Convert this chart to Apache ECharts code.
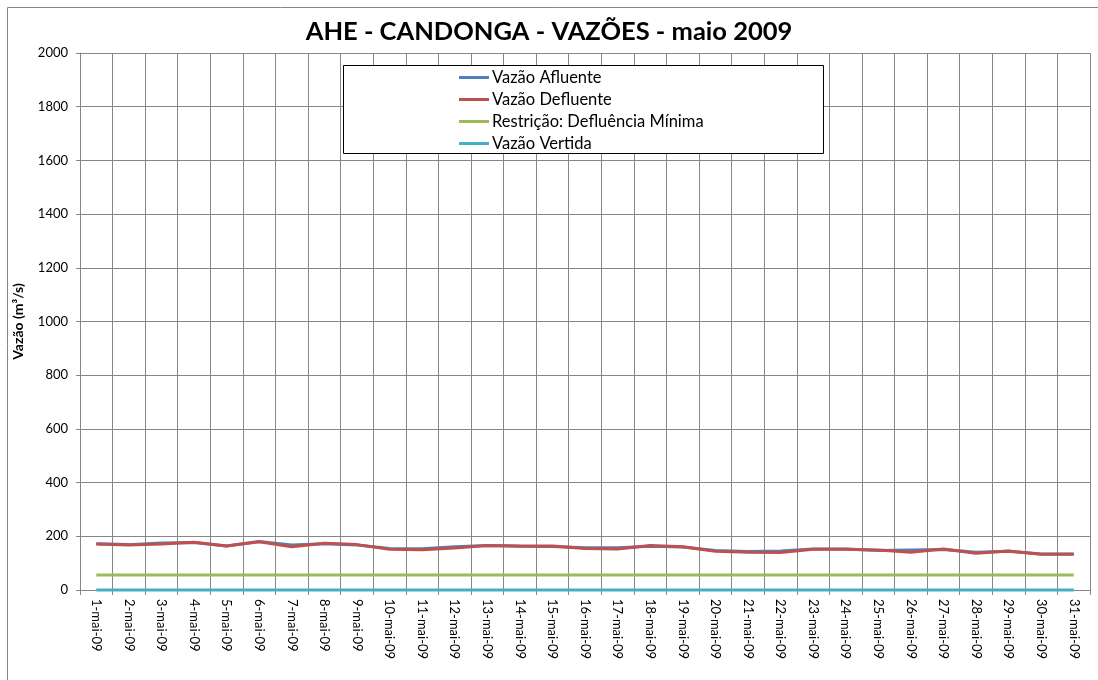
<!DOCTYPE html>
<html>
<head>
<meta charset="utf-8">
<script src="https://cdn.jsdelivr.net/npm/echarts@6/dist/echarts.min.js"></script>
<style>html,body{margin:0;padding:0;background:#fff}#c{width:1098px;height:680px}</style>
</head>
<body>
<div id="c"></div>
<script>
const categories = ['1-mai-09','2-mai-09','3-mai-09','4-mai-09','5-mai-09','6-mai-09','7-mai-09','8-mai-09','9-mai-09','10-mai-09','11-mai-09','12-mai-09','13-mai-09','14-mai-09','15-mai-09','16-mai-09','17-mai-09','18-mai-09','19-mai-09','20-mai-09','21-mai-09','22-mai-09','23-mai-09','24-mai-09','25-mai-09','26-mai-09','27-mai-09','28-mai-09','29-mai-09','30-mai-09','31-mai-09'];
const vazaoAfluente = [172,169,175,177,164,181,168,172,168,155,154,161,166,163,162,157,157,163,160,147,143,145,153,153,147,149,151,141,144,134,134];
const vazaoDefluente = [171,168,171,178,164,180,161,174,169,152,150,156,166,164,164,155,153,166,161,144,141,140,152,152,149,141,153,137,145,133,133];
const restricaoMinima = [56,56,56,56,56,56,56,56,56,56,56,56,56,56,56,56,56,56,56,56,56,56,56,56,56,56,56,56,56,56,56];
const vazaoVertida = [0,0,0,0,0,0,0,0,0,0,0,0,0,0,0,0,0,0,0,0,0,0,0,0,0,0,0,0,0,0,0];
const yTicks = [0,200,400,600,800,1000,1200,1400,1600,1800,2000];

const FONT = 'Lato, "Open Sans", sans-serif';
const chart = echarts.init(document.getElementById('c'), null, {renderer:'canvas'});
const mk = (name, data, color) => ({
  name, type:'line', data, symbol:'none', smooth:false, clip:false,
  lineStyle:{color, width:3}, itemStyle:{color}, z:3
});
chart.setOption({
  animation:false,
  backgroundColor:'#fff',
  textStyle:{fontFamily:FONT},
  title:{
    text:'AHE - CANDONGA - VAZÕES - maio 2009',
    left:'center', top:14,
    textStyle:{fontFamily:FONT, fontWeight:'bold', fontSize:25.5, color:'#000'}
  },
  graphic:[
    {type:'rect', shape:{x:7.5,y:7.5,width:1100,height:700}, style:{fill:null, stroke:'#868686', lineWidth:1}, z:0, silent:true},
    {type:'rect', shape:{x:343.5,y:65.5,width:480,height:88}, style:{fill:'#fff', stroke:'#000', lineWidth:1}, z:5, silent:true}
  ],
  legend:{
    orient:'vertical', left:454, top:64, z:10,
    icon:'rect', itemWidth:30, itemHeight:3, itemGap:5,
    textStyle:{fontFamily:FONT, fontSize:16.5, color:'#000', lineHeight:17, padding:[0,0,0,-2]},
    data:['Vazão Afluente','Vazão Defluente','Restrição: Defluência Mínima','Vazão Vertida']
  },
  grid:{left:80, top:53, right:8, bottom:90},
  xAxis:{
    type:'category', data:categories, boundaryGap:true,
    axisLine:{lineStyle:{color:'#868686', width:1}},
    axisTick:{show:true, length:5, lineStyle:{color:'#868686'}},
    splitLine:{show:true, lineStyle:{color:'#868686', width:1}},
    axisLabel:{rotate:-90, interval:0, fontSize:13, color:'#000', margin:9, fontFamily:FONT}
  },
  yAxis:{
    type:'value', min:0, max:2000, interval:200,
    name:'Vazão (m³/s)', nameLocation:'middle', nameGap:55, nameRotate:90,
    nameTextStyle:{fontFamily:FONT, fontWeight:'bold', fontSize:14, color:'#000'},
    axisLine:{show:true, lineStyle:{color:'#868686', width:1}},
    axisTick:{show:true, length:4, lineStyle:{color:'#868686'}},
    splitLine:{show:true, lineStyle:{color:'#868686', width:1}},
    axisLabel:{fontSize:13, color:'#000', margin:12, fontFamily:FONT,
      formatter:v => yTicks.includes(v) ? String(v) : ''}
  },
  series:[
    mk('Vazão Afluente', vazaoAfluente, '#4F81BD'),
    mk('Vazão Defluente', vazaoDefluente, '#C0504D'),
    mk('Restrição: Defluência Mínima', restricaoMinima, '#9BBB59'),
    mk('Vazão Vertida', vazaoVertida, '#4BACC6')
  ]
});
</script>
</body>
</html>
